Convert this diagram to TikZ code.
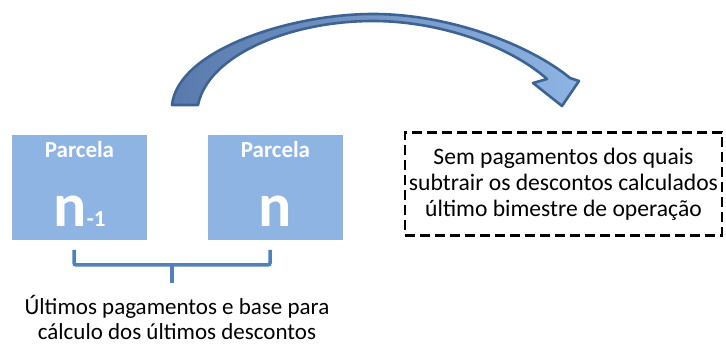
\documentclass[tikz,border=0pt]{standalone}
\usepackage{fontspec}
\setmainfont{Carlito}
\usetikzlibrary{positioning}
\definecolor{boxblue}{HTML}{8EB4E3}
\definecolor{bracketblue}{HTML}{4F81BD}
\definecolor{arrowline}{HTML}{3D6393}
\definecolor{arrowdark}{HTML}{5A7AAD}
\tikzset{
  parcela/.style={fill=boxblue, minimum width=135pt, minimum height=105pt, inner sep=0pt},
  toplabel/.style={text=white, font=\fontsize{23}{23}\selectfont\bfseries, inner sep=0pt},
  biglabel/.style={text=white, font=\fontsize{62}{62}\selectfont\bfseries, inner sep=0pt, anchor=base},
  note/.style={draw=black, line width=2.6pt, dash pattern=on 10pt off 5pt,
    minimum width=317pt, minimum height=103pt, align=center,
    font=\fontsize{23.6}{26}\selectfont},
  caption/.style={align=center, font=\fontsize{23}{25}\selectfont},
  brace/.style={draw=bracketblue, line width=3.5pt, rounded corners=2pt}
}
\begin{document}
\begin{tikzpicture}[x=1pt, y=-1pt]
  \useasboundingbox (0,0) rectangle (726,347);

  % the two instalments
  \node[parcela] (p1) at (79.5,187.5) {};
  \node[parcela] (p2) at (275.5,187.5) {};
  \node[toplabel] (p1t) at (79.5,150) {Parcela};
  \node[toplabel] (p2t) at (275.5,150) {Parcela};
  \node[biglabel] (p1n) at (79.5,227) {n{\fontsize{23}{23}\selectfont -1}};
  \node[biglabel] (p2n) at (275.5,227) {n};

  % dashed note
  \node[note] (sem) at (563.5,184) {Sem pagamentos dos quais\\
    subtrair os descontos calculados\\
    último bimestre de operação};

  % bracket under the boxes
  \coordinate (bl) at (74,250);
  \coordinate (br) at (270,250);
  \coordinate (bm) at (172,265);
  \draw[brace] (bl) -- (74,265) -- (270,265) -- (br);
  \draw[brace] (bm) -- (172,283);
  \node[caption] (ult) at (177,317) {Últimos pagamentos e base para\\
    cálculo dos últimos descontos};

  % curved arrow
  \draw[arrowline, line width=2.6pt, line join=round,
        left color=arrowdark, right color=boxblue]
    (172,105) .. controls (178,50) and (290,14) .. (373,14)
    .. controls (450,14) and (530,45) .. (570,78)
    -- (579,81) -- (562,106) -- (533,83) -- (547,79)
    .. controls (510,46) and (440,21) .. (373,21)
    .. controls (290,21) and (208,55) .. (198,105) -- cycle;
\end{tikzpicture}
\end{document}
